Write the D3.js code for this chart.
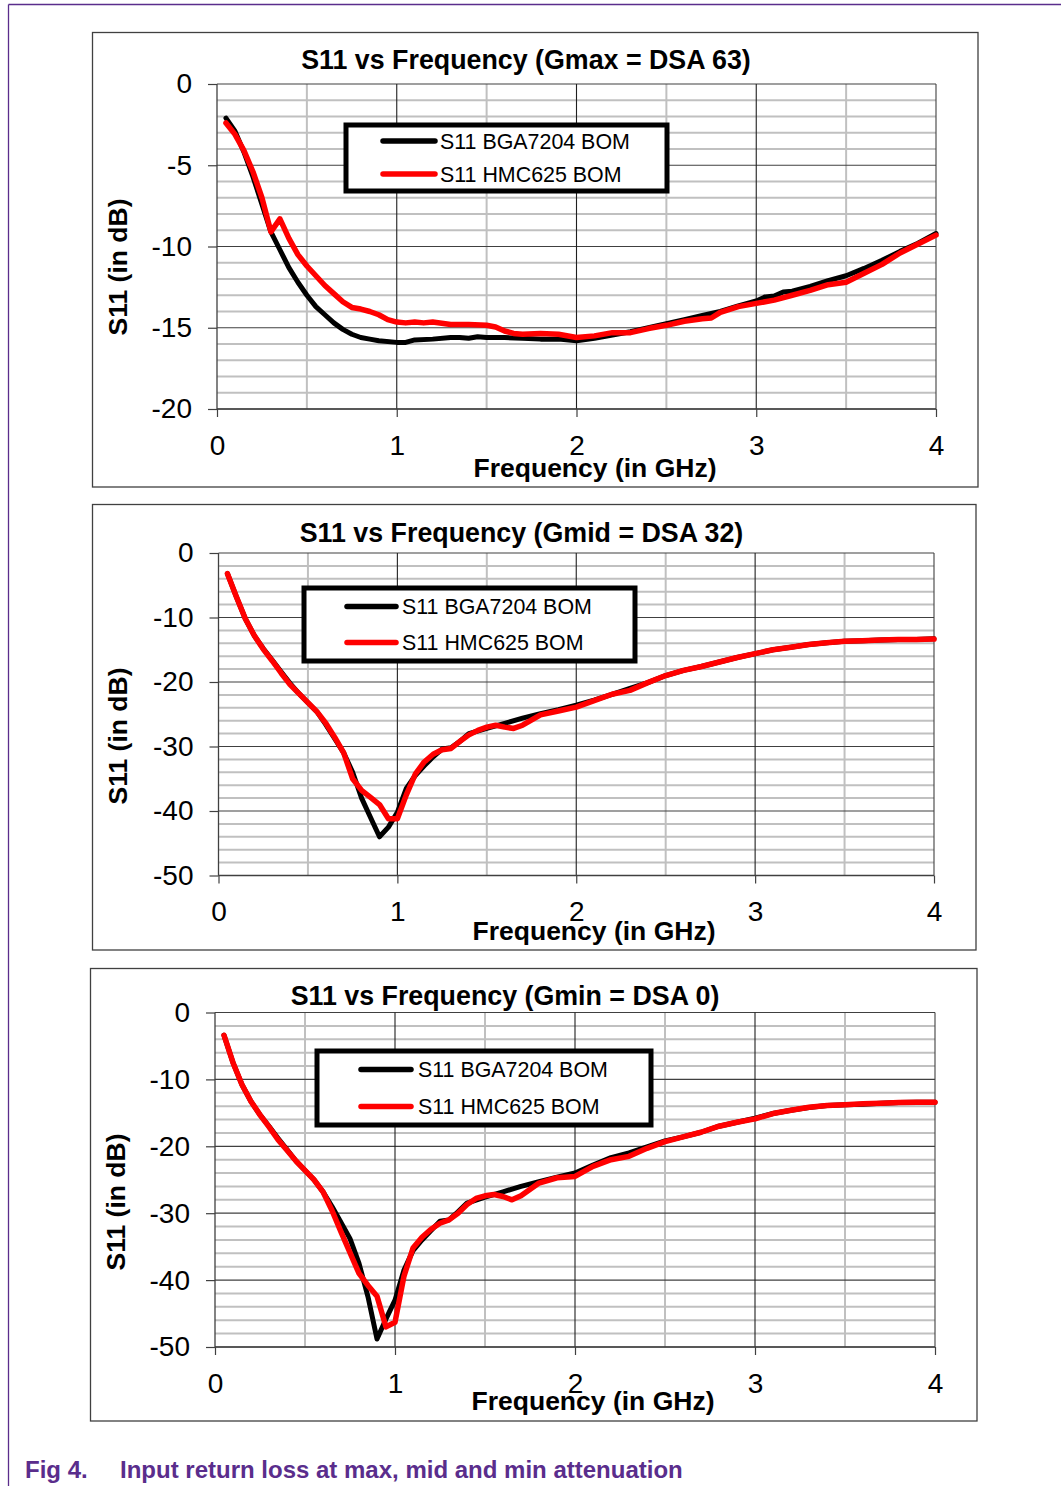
<!DOCTYPE html>
<html>
<head>
<meta charset="utf-8">
<script src="https://cdn.jsdelivr.net/npm/d3@7"></script>
<style>
  html, body { margin: 0; padding: 0; background: #fff; }
  svg { display: block; }
  text { font-family: "Liberation Sans", Arial, sans-serif; }
</style>
</head>
<body>
<svg id="chart" width="1061" height="1486"></svg>
<script>
// ---------------- DATA ----------------
const seriesNames = ["S11 BGA7204 BOM", "S11 HMC625 BOM"];
const chartTitles = [
  "S11 vs Frequency (Gmax = DSA 63)",
  "S11 vs Frequency (Gmid = DSA 32)",
  "S11 vs Frequency (Gmin = DSA 0)"
];
const xTickValues = [0, 1, 2, 3, 4];
const yTicksGmax = [0, -5, -10, -15, -20];
const yTicksGmid = [0, -10, -20, -30, -40, -50];
const yTicksGmin = [0, -10, -20, -30, -40, -50];
const xAxisTitle = "Frequency (in GHz)";
const yAxisTitle = "S11 (in dB)";
const captionNum = "Fig 4.";
const captionText = "Input return loss at max, mid and min attenuation";

// [frequency GHz, S11 dB]
const gmaxBGA = [[0.05,-2.1],[0.1,-2.9],[0.15,-4.2],[0.2,-5.7],[0.25,-7.4],[0.3,-9.1],[0.35,-10.2],[0.4,-11.3],[0.45,-12.2],[0.5,-13.0],[0.55,-13.7],[0.6,-14.2],[0.65,-14.7],[0.7,-15.1],[0.75,-15.4],[0.8,-15.6],[0.85,-15.7],[0.9,-15.8],[1.0,-15.9],[1.05,-15.9],[1.1,-15.75],[1.2,-15.7],[1.3,-15.6],[1.35,-15.6],[1.4,-15.65],[1.45,-15.55],[1.5,-15.6],[1.6,-15.6],[1.7,-15.65],[1.8,-15.7],[1.9,-15.7],[2.0,-15.8],[2.1,-15.65],[2.2,-15.45],[2.3,-15.25],[2.4,-15.0],[2.5,-14.75],[2.6,-14.5],[2.7,-14.25],[2.8,-14.0],[2.9,-13.65],[3.0,-13.35],[3.05,-13.1],[3.1,-13.05],[3.15,-12.8],[3.2,-12.75],[3.3,-12.45],[3.4,-12.1],[3.5,-11.8],[3.6,-11.35],[3.7,-10.85],[3.8,-10.3],[3.9,-9.8],[4.0,-9.2]];
const gmaxHMC = [[0.05,-2.4],[0.1,-3.1],[0.15,-4.1],[0.2,-5.4],[0.25,-7.0],[0.3,-9.1],[0.35,-8.3],[0.4,-9.5],[0.45,-10.5],[0.5,-11.2],[0.55,-11.8],[0.6,-12.4],[0.65,-12.9],[0.7,-13.4],[0.75,-13.75],[0.8,-13.85],[0.85,-14.0],[0.9,-14.2],[0.95,-14.5],[1.0,-14.65],[1.05,-14.7],[1.1,-14.65],[1.15,-14.7],[1.2,-14.65],[1.3,-14.8],[1.4,-14.8],[1.5,-14.85],[1.55,-14.95],[1.6,-15.2],[1.65,-15.35],[1.7,-15.4],[1.8,-15.35],[1.9,-15.4],[2.0,-15.6],[2.1,-15.5],[2.2,-15.3],[2.3,-15.3],[2.4,-15.05],[2.5,-14.85],[2.6,-14.6],[2.7,-14.45],[2.75,-14.4],[2.8,-14.05],[2.9,-13.7],[3.0,-13.5],[3.1,-13.3],[3.2,-13.0],[3.3,-12.7],[3.4,-12.35],[3.5,-12.2],[3.6,-11.65],[3.7,-11.1],[3.8,-10.4],[3.9,-9.85],[4.0,-9.3]];

const gmidBGA = [[0.05,-3.2],[0.1,-6.8],[0.15,-10.2],[0.2,-12.8],[0.25,-14.8],[0.3,-16.6],[0.35,-18.4],[0.4,-20.2],[0.45,-21.8],[0.5,-23.2],[0.55,-24.6],[0.6,-26.6],[0.65,-28.8],[0.7,-31.0],[0.75,-34.0],[0.8,-38.0],[0.85,-41.0],[0.9,-44.0],[0.95,-42.5],[1.0,-40.2],[1.05,-36.5],[1.1,-34.5],[1.15,-33.0],[1.2,-31.6],[1.25,-30.4],[1.3,-30.2],[1.35,-29.2],[1.4,-28.0],[1.5,-27.2],[1.6,-26.4],[1.7,-25.6],[1.8,-24.9],[1.9,-24.3],[2.0,-23.6],[2.1,-22.8],[2.2,-21.9],[2.3,-21.0],[2.4,-20.1],[2.5,-19.0],[2.6,-18.2],[2.7,-17.6],[2.8,-16.9],[2.9,-16.2],[3.0,-15.6],[3.1,-15.0],[3.2,-14.6],[3.3,-14.2],[3.4,-13.9],[3.5,-13.7],[3.6,-13.6],[3.7,-13.5],[3.8,-13.4],[3.9,-13.4],[4.0,-13.3]];
const gmidHMC = [[0.05,-3.2],[0.1,-6.8],[0.15,-10.2],[0.2,-12.8],[0.25,-14.9],[0.3,-16.7],[0.35,-18.6],[0.4,-20.4],[0.45,-21.8],[0.5,-23.2],[0.55,-24.6],[0.6,-26.4],[0.65,-28.6],[0.7,-31.0],[0.75,-35.0],[0.8,-36.8],[0.85,-37.9],[0.9,-39.0],[0.95,-41.2],[1.0,-41.2],[1.05,-37.5],[1.1,-34.3],[1.15,-32.4],[1.2,-31.2],[1.25,-30.5],[1.3,-30.3],[1.35,-29.2],[1.4,-28.2],[1.45,-27.5],[1.5,-27.0],[1.55,-26.7],[1.6,-27.0],[1.65,-27.2],[1.7,-26.7],[1.8,-25.1],[1.9,-24.5],[2.0,-23.9],[2.1,-22.9],[2.2,-21.9],[2.3,-21.3],[2.4,-20.1],[2.5,-19.0],[2.6,-18.2],[2.7,-17.6],[2.8,-16.9],[2.9,-16.2],[3.0,-15.6],[3.1,-15.0],[3.2,-14.6],[3.3,-14.2],[3.4,-13.9],[3.5,-13.7],[3.6,-13.6],[3.7,-13.5],[3.8,-13.4],[3.9,-13.4],[4.0,-13.35]];

const gminBGA = [[0.05,-3.4],[0.1,-7.5],[0.15,-10.8],[0.2,-13.3],[0.25,-15.3],[0.3,-17.0],[0.35,-18.8],[0.4,-20.5],[0.45,-22.2],[0.5,-23.6],[0.55,-25.0],[0.6,-26.8],[0.65,-29.0],[0.7,-31.4],[0.75,-33.8],[0.8,-37.5],[0.85,-42.5],[0.9,-48.8],[0.95,-45.8],[1.0,-43.0],[1.05,-38.5],[1.1,-35.6],[1.15,-34.0],[1.2,-32.6],[1.25,-31.2],[1.3,-31.0],[1.35,-29.8],[1.4,-28.5],[1.5,-27.6],[1.6,-26.8],[1.7,-26.0],[1.8,-25.3],[1.9,-24.6],[2.0,-24.0],[2.1,-22.8],[2.2,-21.7],[2.3,-21.0],[2.4,-20.1],[2.5,-19.2],[2.6,-18.6],[2.7,-17.9],[2.8,-17.0],[2.9,-16.4],[3.0,-15.8],[3.1,-15.1],[3.2,-14.6],[3.3,-14.2],[3.4,-13.9],[3.5,-13.8],[3.6,-13.7],[3.7,-13.55],[3.8,-13.45],[3.9,-13.4],[4.0,-13.4]];
const gminHMC = [[0.05,-3.4],[0.1,-7.5],[0.15,-10.8],[0.2,-13.3],[0.25,-15.3],[0.3,-17.1],[0.35,-19.0],[0.4,-20.6],[0.45,-22.2],[0.5,-23.6],[0.55,-25.0],[0.6,-26.8],[0.65,-29.6],[0.7,-32.8],[0.75,-35.9],[0.8,-39.0],[0.85,-40.8],[0.9,-42.4],[0.95,-47.0],[1.0,-46.3],[1.05,-39.4],[1.1,-35.2],[1.15,-33.6],[1.2,-32.4],[1.25,-31.5],[1.3,-31.0],[1.35,-30.0],[1.4,-28.7],[1.45,-27.8],[1.5,-27.4],[1.55,-27.2],[1.6,-27.5],[1.65,-28.0],[1.7,-27.4],[1.8,-25.5],[1.9,-24.7],[2.0,-24.5],[2.1,-23.0],[2.2,-22.0],[2.3,-21.5],[2.4,-20.3],[2.5,-19.3],[2.6,-18.6],[2.7,-17.9],[2.8,-17.0],[2.9,-16.4],[3.0,-15.9],[3.1,-15.1],[3.2,-14.6],[3.3,-14.15],[3.4,-13.9],[3.5,-13.8],[3.6,-13.65],[3.7,-13.55],[3.8,-13.45],[3.9,-13.4],[4.0,-13.4]];

// ---------------- LAYOUT ----------------
const seriesColors = ["#000000", "#ff0000"];
const purple = "#5a2d8c";
const layouts = [
  { box:[92.5,32.5,978,487], plot:[217,84,936,409], yTicks:yTicksGmax, yMinorStep:1,
    titleX:526, titleY:69, xTitleX:595, xTitleY:477, yTitleX:127, yTitleY:267,
    legend:{x:346,y:125,w:321,h:66,lx0:383,lx1:435,ly:[141,174],tx:440} },
  { box:[92.5,504.5,976,950], plot:[218.5,553,934,875.5], yTicks:yTicksGmid, yMinorStep:2,
    titleX:521.5, titleY:541.5, xTitleX:594, xTitleY:940, yTitleX:127, yTitleY:736,
    legend:{x:304,y:588,w:331,h:73,lx0:347,lx1:396,ly:[606.5,642.5],tx:402} },
  { box:[90.5,968.5,977,1421], plot:[215,1012.5,935,1347], yTicks:yTicksGmin, yMinorStep:2,
    titleX:505, titleY:1005, xTitleX:593, xTitleY:1410, yTitleX:125, yTitleY:1202,
    legend:{x:317,y:1051,w:334,h:74,lx0:361,lx1:411,ly:[1069.5,1106.5],tx:418} }
];
const chartData = [[gmaxBGA, gmaxHMC],[gmidBGA, gmidHMC],[gminBGA, gminHMC]];
const fmt = d => String(d); // plain hyphen-minus like the reference

const svg = d3.select("#chart");

// page border
svg.append("line").attr("x1",8.5).attr("x2",1061).attr("y1",4.5).attr("y2",4.5)
  .attr("stroke",purple).attr("stroke-width",1.3);
svg.append("line").attr("x1",8.5).attr("x2",8.5).attr("y1",4.5).attr("y2",1486)
  .attr("stroke",purple).attr("stroke-width",1.3);

layouts.forEach((L, ci) => {
  const g = svg.append("g");
  const [bx0,by0,bx1,by1] = L.box;
  g.append("rect").attr("x",bx0).attr("y",by0).attr("width",bx1-bx0).attr("height",by1-by0)
    .attr("fill","#fff").attr("stroke","#404040").attr("stroke-width",1.3);

  const [px0,py0,px1,py1] = L.plot;
  const yMin = d3.min(L.yTicks), yMax = d3.max(L.yTicks);
  const x = d3.scaleLinear().domain([0,4]).range([px0,px1]);
  const y = d3.scaleLinear().domain([yMin,yMax]).range([py1,py0]);
  const majorStep = L.yTicks[0] - L.yTicks[1];

  const yMinor = d3.range(yMin, yMax + 0.001, L.yMinorStep).filter(v => Math.abs(v % majorStep) > 1e-6);
  g.selectAll(".hmin").data(yMinor).join("line")
    .attr("x1",px0).attr("x2",px1).attr("y1",d=>y(d)).attr("y2",d=>y(d))
    .attr("stroke","#c0c0c0").attr("stroke-width",2);
  const xMinor = [0.5,1.5,2.5,3.5];
  g.selectAll(".vmin").data(xMinor).join("line")
    .attr("x1",d=>x(d)).attr("x2",d=>x(d)).attr("y1",py0).attr("y2",py1)
    .attr("stroke","#c0c0c0").attr("stroke-width",2);
  g.selectAll(".hmaj").data(L.yTicks).join("line")
    .attr("x1",px0).attr("x2",px1).attr("y1",d=>y(d)).attr("y2",d=>y(d))
    .attr("stroke","#404040").attr("stroke-width",1.2);
  g.selectAll(".vmaj").data([1,2,3,4]).join("line")
    .attr("x1",d=>x(d)).attr("x2",d=>x(d)).attr("y1",py0).attr("y2",py1)
    .attr("stroke",(d)=> d===4 ? "#404040" : "#202020").attr("stroke-width",1.1);

  const ya = g.append("g").attr("transform",`translate(${px0},0)`)
    .call(d3.axisLeft(y).tickValues(L.yTicks).tickSize(9).tickSizeOuter(0).tickPadding(16).tickFormat(fmt));
  ya.select(".domain").remove();
  ya.selectAll("line").attr("stroke","#404040").attr("stroke-width",1.2);
  ya.selectAll("text").attr("font-size",28).attr("fill","#000")
    .style("font-family","'Liberation Sans', Arial, sans-serif");
  g.append("line").attr("x1",px0).attr("x2",px0).attr("y1",py0).attr("y2",py1)
    .attr("stroke","#404040").attr("stroke-width",1.3);

  const xa = g.append("g").attr("transform",`translate(0,${py1})`)
    .call(d3.axisBottom(x).tickValues(xTickValues).tickSize(8).tickSizeOuter(0).tickPadding(18).tickFormat(fmt));
  xa.select(".domain").remove();
  xa.selectAll("line").attr("stroke","#404040").attr("stroke-width",1.2);
  xa.selectAll("text").attr("font-size",28).attr("fill","#000")
    .style("font-family","'Liberation Sans', Arial, sans-serif");
  g.append("line").attr("x1",px0).attr("x2",px1).attr("y1",py1).attr("y2",py1)
    .attr("stroke","#404040").attr("stroke-width",1.3);

  const line = d3.line().x(d=>x(d[0])).y(d=>y(d[1]));
  chartData[ci].forEach((s, si) => {
    g.append("path").datum(s).attr("d",line).attr("fill","none")
      .attr("stroke",seriesColors[si]).attr("stroke-width", si===0 ? 5 : 5.5)
      .attr("stroke-linejoin","round").attr("stroke-linecap","round");
  });

  g.append("text").attr("x",L.titleX).attr("y",L.titleY).attr("text-anchor","middle")
    .attr("font-size",26.8).attr("font-weight","bold").text(chartTitles[ci]);
  g.append("text").attr("x",L.xTitleX).attr("y",L.xTitleY).attr("text-anchor","middle")
    .attr("font-size",26.5).attr("font-weight","bold").text(xAxisTitle);
  g.append("text").attr("transform",`translate(${L.yTitleX},${L.yTitleY}) rotate(-90)`)
    .attr("text-anchor","middle").attr("font-size",26.5).attr("font-weight","bold").text(yAxisTitle);

  const lg = L.legend;
  g.append("rect").attr("x",lg.x).attr("y",lg.y).attr("width",lg.w).attr("height",lg.h)
    .attr("fill","#fff").attr("stroke","#000").attr("stroke-width",5);
  seriesNames.forEach((nm, si) => {
    g.append("line").attr("x1",lg.lx0).attr("x2",lg.lx1).attr("y1",lg.ly[si]).attr("y2",lg.ly[si])
      .attr("stroke",seriesColors[si]).attr("stroke-width",5.5).attr("stroke-linecap","round");
    g.append("text").attr("x",lg.tx).attr("y",lg.ly[si]+7.5).attr("font-size",21.4)
      .attr("fill","#000").text(nm);
  });
});

svg.append("text").attr("x",25).attr("y",1478).attr("font-size",24).attr("font-weight","bold")
  .attr("fill",purple).text(captionNum);
svg.append("text").attr("x",120).attr("y",1478).attr("font-size",24).attr("font-weight","bold")
  .attr("fill",purple).text(captionText);
</script>
</body>
</html>
